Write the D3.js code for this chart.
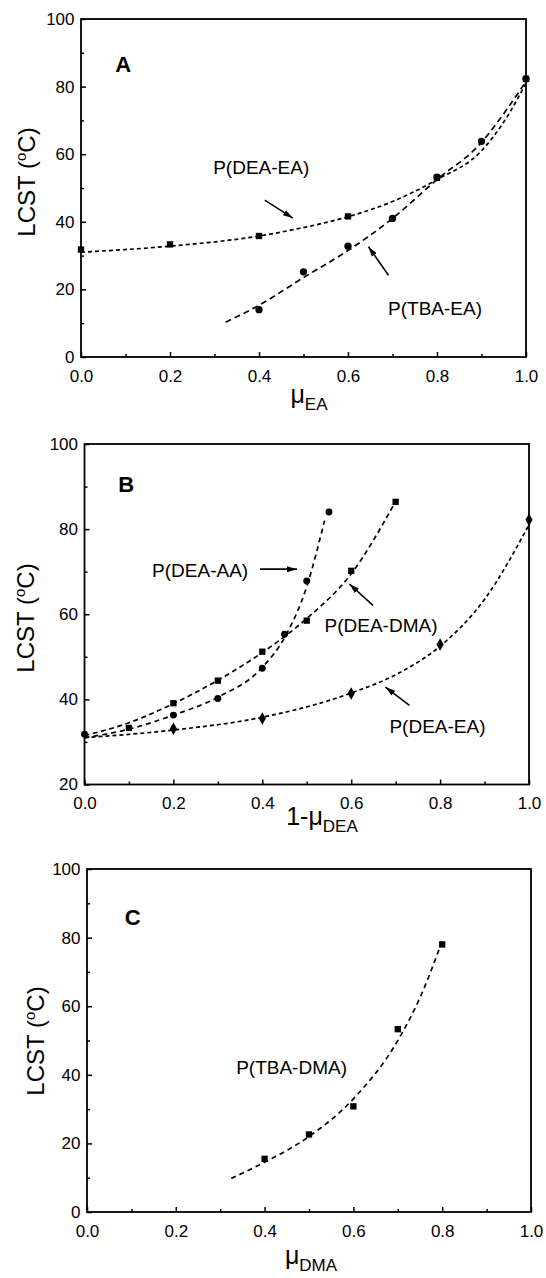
<!DOCTYPE html>
<html>
<head>
<meta charset="utf-8">
<script src="https://cdn.jsdelivr.net/npm/d3@7"></script>
<style>
  body { margin: 0; background: #fff; }
  svg { display: block; font-family: 'Liberation Sans', Arial, Helvetica, sans-serif; }
</style>
</head>
<body>
<svg id="plot" width="546" height="1278"></svg>
<script>
// ticks
const xTickValues = [0, 0.2, 0.4, 0.6, 0.8, 1.0];
const xMinorValues = [0.1, 0.3, 0.5, 0.7, 0.9];
const yTicksA = [0, 20, 40, 60, 80, 100];
const yMinorA = [10, 30, 50, 70, 90];
const yTicksB = [20, 40, 60, 80, 100];
const yMinorB = [30, 50, 70, 90];

// panel A
const deaEaX = [0, 0.2, 0.4, 0.6, 0.8, 1.0];
const deaEaY = [31.8, 33.3, 35.8, 41.6, 53, 82.3];
const deaEaFitX = [0, 0.2, 0.4, 0.5, 0.6, 0.7, 0.8, 0.9, 0.95, 1.0];
const deaEaFitY = [31, 32.8, 35.8, 38.3, 41.5, 46, 52.5, 61, 69.5, 81];
const tbaEaX = [0.4, 0.5, 0.6, 0.7, 0.8, 0.9, 1.0];
const tbaEaY = [14, 25.2, 32.8, 41, 53.2, 63.8, 82.3];
const tbaEaFitX = [0.325, 0.4, 0.5, 0.6, 0.7, 0.8, 0.9, 0.95, 1.0];
const tbaEaFitY = [10.3, 15.3, 23.5, 31.5, 41, 52.5, 63.5, 72, 81.5];

// panel B
const deaAaX = [0, 0.2, 0.3, 0.4, 0.45, 0.5, 0.55];
const deaAaY = [31.8, 36.3, 40.2, 47.3, 55.3, 67.8, 84];
const deaAaFitX = [0, 0.1, 0.2, 0.3, 0.4, 0.45, 0.5, 0.54];
const deaAaFitY = [31, 33, 36.3, 40.5, 47.5, 54.5, 66.5, 82];
const deaDmaX = [0.1, 0.2, 0.3, 0.4, 0.5, 0.6, 0.7];
const deaDmaY = [33.3, 39.1, 44.4, 51.2, 58.5, 70.2, 86.4];
const deaDmaFitX = [0, 0.1, 0.2, 0.3, 0.4, 0.5, 0.6, 0.7];
const deaDmaFitY = [31.5, 34.5, 39, 44.5, 51, 59, 69.5, 86.5];
const deaEaBX = [0.2, 0.4, 0.6, 0.8, 1.0];
const deaEaBY = [33.1, 35.5, 41.4, 52.9, 82.2];
const deaEaBFitX = [0, 0.2, 0.4, 0.6, 0.7, 0.8, 0.9, 1.0];
const deaEaBFitY = [31, 32.8, 35.8, 41.5, 45.8, 52.5, 63.5, 81];

// panel C
const tbaDmaX = [0.4, 0.5, 0.6, 0.7, 0.8];
const tbaDmaY = [15.5, 22.6, 30.8, 53.3, 78];
const tbaDmaFitX = [0.325, 0.4, 0.5, 0.6, 0.7, 0.75, 0.8];
const tbaDmaFitY = [9.8, 14.5, 22, 33, 50, 62.5, 79];

const svg = d3.select('#plot');

svg.append('defs').append('marker')
    .attr('id', 'arrow')
    .attr('markerUnits', 'userSpaceOnUse')
    .attr('markerWidth', 10)
    .attr('markerHeight', 8)
    .attr('refX', 10)
    .attr('refY', 4)
    .attr('orient', 'auto')
  .append('path')
    .attr('d', 'M0,1 L10,4 L0,7 z')
    .attr('fill', 'black');

const drawPanel = (selection, props) => {
  const { frame, yDomain, yTicks, yMinor, letter, series, fits, notes, yTitle, xTitle } = props;

  const xScale = d3.scaleLinear().domain([0, 1]).range([frame.left, frame.right]);
  const yScale = d3.scaleLinear().domain(yDomain).range([frame.bottom, frame.top]);

  const g = selection.append('g');

  const axisStyle = axisG => {
    axisG.selectAll('.domain').remove();
    axisG.attr('font-family', null).attr('font-size', 17);
    axisG.selectAll('line').attr('stroke-width', 1.5);
    axisG.selectAll('text').attr('fill', 'black');
  };

  g.append('g')
      .attr('transform', `translate(0, ${frame.bottom})`)
      .call(d3.axisBottom(xScale).tickValues(xTickValues)
        .tickSizeInner(-5).tickSizeOuter(0).tickPadding(12.5)
        .tickFormat(d3.format('.1f')))
      .call(axisStyle);
  g.append('g')
      .attr('transform', `translate(0, ${frame.bottom})`)
      .call(d3.axisBottom(xScale).tickValues(xMinorValues)
        .tickSizeInner(-3).tickSizeOuter(0).tickFormat(''))
      .call(axisStyle);

  g.append('g')
      .attr('transform', `translate(${frame.left}, 0)`)
      .call(d3.axisLeft(yScale).tickValues(yTicks)
        .tickSizeInner(-5).tickSizeOuter(0).tickPadding(6.5))
      .call(axisStyle);
  g.append('g')
      .attr('transform', `translate(${frame.left}, 0)`)
      .call(d3.axisLeft(yScale).tickValues(yMinor)
        .tickSizeInner(-3).tickSizeOuter(0).tickFormat(''))
      .call(axisStyle);

  g.append('rect')
      .attr('x', frame.left)
      .attr('y', frame.top)
      .attr('width', frame.right - frame.left)
      .attr('height', frame.bottom - frame.top)
      .attr('fill', 'none')
      .attr('stroke', 'black')
      .attr('stroke-width', 1.8);

  const line = d3.line()
    .x(d => xScale(d[0]))
    .y(d => yScale(d[1]))
    .curve(d3.curveMonotoneX);

  fits.forEach(f => {
    g.append('path')
        .datum(d3.zip(f.x, f.y))
        .attr('d', line)
        .attr('fill', 'none')
        .attr('stroke', 'black')
        .attr('stroke-width', 1.7)
        .attr('stroke-dasharray', f.dash);
  });

  series.forEach(s => {
    g.append('g').selectAll('path')
      .data(d3.zip(s.x, s.y))
      .enter().append('path')
        .attr('transform', d => `translate(${xScale(d[0])}, ${yScale(d[1])})`)
        .attr('d', d3.symbol().type(s.symbol).size(s.size))
        .attr('fill', 'black');
  });

  notes.forEach(n => {
    g.append('text')
        .attr('x', xScale(n.x))
        .attr('y', yScale(n.y))
        .attr('font-size', 19)
        .text(n.text);
    if (n.from) {
      g.append('line')
          .attr('x1', xScale(n.from[0]))
          .attr('y1', yScale(n.from[1]))
          .attr('x2', xScale(n.to[0]))
          .attr('y2', yScale(n.to[1]))
          .attr('stroke', 'black')
          .attr('stroke-width', 1.6)
          .attr('marker-end', 'url(#arrow)');
    }
  });

  g.append('text')
      .attr('x', xScale(letter.x))
      .attr('y', yScale(letter.y))
      .attr('font-size', 22)
      .attr('font-weight', 'bold')
      .text(letter.text);

  const yt = g.append('text')
      .attr('transform', `translate(${yTitle.x}, ${yTitle.y}) rotate(-90)`)
      .attr('text-anchor', 'middle')
      .attr('font-size', 24);
  yt.append('tspan').text('LCST (');
  yt.append('tspan').attr('font-size', 15).attr('dy', -9).text('o');
  yt.append('tspan').attr('dy', 9).text('C)');

  const xt = g.append('text')
      .attr('x', xTitle.x)
      .attr('y', xTitle.y)
      .attr('text-anchor', 'middle')
      .attr('font-size', 25);
  xt.append('tspan').text(xTitle.main);
  xt.append('tspan').attr('font-size', 17).attr('dy', xTitle.subDy).text(xTitle.sub);
};

drawPanel(svg, {
  frame: { left: 81, right: 526, top: 19, bottom: 357 },
  yDomain: [0, 100], yTicks: yTicksA, yMinor: yMinorA,
  letter: { text: 'A', x: 0.077, y: 84.4 },
  series: [
    { x: deaEaX, y: deaEaY, symbol: d3.symbolSquare, size: 40 },
    { x: tbaEaX, y: tbaEaY, symbol: d3.symbolCircle, size: 42 }
  ],
  fits: [
    { x: deaEaFitX, y: deaEaFitY, dash: '4,3' },
    { x: tbaEaFitX, y: tbaEaFitY, dash: '6,4' }
  ],
  notes: [
    { text: 'P(DEA-EA)', x: 0.297, y: 54, from: [0.413, 46.4], to: [0.476, 41.1] },
    { text: 'P(TBA-EA)', x: 0.690, y: 12.4, from: [0.691, 24.2], to: [0.646, 32.6] }
  ],
  yTitle: { x: 35, y: 182 },
  xTitle: { x: 309, y: 403, main: 'μ', sub: 'EA', subDy: 7 }
});

drawPanel(svg, {
  frame: { left: 84.5, right: 529, top: 444, bottom: 784.5 },
  yDomain: [20, 100], yTicks: yTicksB, yMinor: yMinorB,
  letter: { text: 'B', x: 0.076, y: 88.8 },
  series: [
    { x: deaAaX, y: deaAaY, symbol: d3.symbolCircle, size: 38 },
    { x: deaDmaX, y: deaDmaY, symbol: d3.symbolSquare, size: 40 },
    { x: deaEaBX, y: deaEaBY, symbol: d3.symbolDiamond, size: 45 }
  ],
  fits: [
    { x: deaAaFitX, y: deaAaFitY, dash: '5,4' },
    { x: deaDmaFitX, y: deaDmaFitY, dash: '5,3.5' },
    { x: deaEaBFitX, y: deaEaBFitY, dash: '4,3' }
  ],
  notes: [
    { text: 'P(DEA-AA)', x: 0.152, y: 68.8, from: [0.395, 70.6], to: [0.478, 70.6] },
    { text: 'P(DEA-DMA)', x: 0.540, y: 55.8, from: [0.649, 62.1], to: [0.596, 67.1] },
    { text: 'P(DEA-EA)', x: 0.686, y: 32, from: [0.731, 38.6], to: [0.677, 42.9] }
  ],
  yTitle: { x: 33.5, y: 618 },
  xTitle: { x: 322, y: 825, main: '1-μ', sub: 'DEA', subDy: 7 }
});

drawPanel(svg, {
  frame: { left: 87, right: 531, top: 869, bottom: 1212 },
  yDomain: [0, 100], yTicks: yTicksA, yMinor: yMinorA,
  letter: { text: 'C', x: 0.085, y: 83.7 },
  series: [
    { x: tbaDmaX, y: tbaDmaY, symbol: d3.symbolSquare, size: 40 }
  ],
  fits: [
    { x: tbaDmaFitX, y: tbaDmaFitY, dash: '5,4' }
  ],
  notes: [
    { text: 'P(TBA-DMA)', x: 0.336, y: 40.2 }
  ],
  yTitle: { x: 43.5, y: 1041 },
  xTitle: { x: 311, y: 1264, main: 'μ', sub: 'DMA', subDy: 7 }
});
</script>
</body>
</html>
